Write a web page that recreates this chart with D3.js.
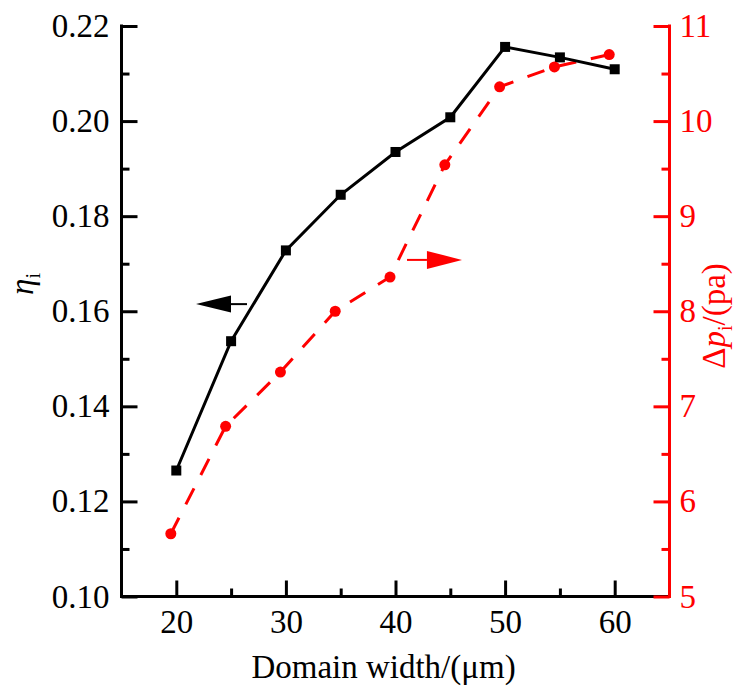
<!DOCTYPE html>
<html>
<head>
<meta charset="utf-8">
<script src="https://cdn.jsdelivr.net/npm/d3@7"></script>
<style>
  html, body { margin: 0; padding: 0; background: #fff; }
  svg { display: block; }
  svg text { font-family: "Liberation Serif", "Times New Roman", serif !important; }
</style>
</head>
<body>
<svg id="chart" width="742" height="696"></svg>
<script>
// ---- data ----
const widths = [20, 25, 30, 35, 40, 45, 50, 55, 60];
const etaValues = [0.1265, 0.1537, 0.1728, 0.1845, 0.1935, 0.2008, 0.2156, 0.2134, 0.2109];
const dpWidths = [19.5, 24.5, 29.5, 34.5, 39.5, 44.5, 49.5, 54.5, 59.5];
const dpValues = [5.66, 6.79, 7.36, 8.00, 8.36, 9.54, 10.36, 10.57, 10.70];
const xTicks = [20, 30, 40, 50, 60];
const xMinor = [25, 35, 45, 55];
const leftTicks = [0.10, 0.12, 0.14, 0.16, 0.18, 0.20, 0.22];
const leftMinor = [0.11, 0.13, 0.15, 0.17, 0.19, 0.21];
const rightTicks = [5, 6, 7, 8, 9, 10, 11];
const rightMinor = [5.5, 6.5, 7.5, 8.5, 9.5, 10.5];

const FONT = "'Liberation Serif', 'Times New Roman', serif";
const svg = d3.select("#chart").attr("font-family", FONT);
const L = 121.5, R = 669.5, T = 26, B = 596.5;
const RED = "#ff0000";

const x = d3.scaleLinear().domain([15, 65]).range([L, R]);
const yL = d3.scaleLinear().domain([0.10, 0.22]).range([B, T]);
const yR = d3.scaleLinear().domain([5, 11]).range([B, T]);

const FS = 33;

// ---- axes ----
function styleAxis(g, color) {
  g.attr("font-family", FONT).attr("font-size", FS);
  g.select(".domain").remove();
  g.selectAll(".tick line").attr("stroke", color).attr("stroke-width", 3);
  g.selectAll(".tick text").attr("fill", color).attr("font-family", FONT);
}

// bottom
const gx = svg.append("g").attr("transform", `translate(0,${B})`);
gx.call(d3.axisBottom(x).tickValues(xTicks).tickSizeInner(-16).tickSizeOuter(0).tickPadding(13).tickFormat(d3.format("d")));
styleAxis(gx, "#000");
const gxm = svg.append("g").attr("transform", `translate(0,${B})`);
gxm.call(d3.axisBottom(x).tickValues(xMinor).tickSizeInner(-8).tickSizeOuter(0).tickFormat(""));
styleAxis(gxm, "#000");

// left
const gl = svg.append("g").attr("transform", `translate(${L},0)`);
gl.call(d3.axisLeft(yL).tickValues(leftTicks).tickSizeInner(-16).tickSizeOuter(0).tickPadding(12).tickFormat(d3.format(".2f")));
styleAxis(gl, "#000");
const glm = svg.append("g").attr("transform", `translate(${L},0)`);
glm.call(d3.axisLeft(yL).tickValues(leftMinor).tickSizeInner(-8).tickSizeOuter(0).tickFormat(""));
styleAxis(glm, "#000");

// axis lines
svg.append("line").attr("x1", L).attr("x2", R).attr("y1", B).attr("y2", B)
  .attr("stroke", "#000").attr("stroke-width", 3).attr("stroke-linecap", "square");
svg.append("line").attr("x1", L).attr("x2", L).attr("y1", T).attr("y2", B)
  .attr("stroke", "#000").attr("stroke-width", 3).attr("stroke-linecap", "square");

// right
const gr = svg.append("g").attr("transform", `translate(${R},0)`);
gr.call(d3.axisRight(yR).tickValues(rightTicks).tickSizeInner(-16).tickSizeOuter(0).tickPadding(10).tickFormat(d3.format("d")));
styleAxis(gr, RED);
const grm = svg.append("g").attr("transform", `translate(${R},0)`);
grm.call(d3.axisRight(yR).tickValues(rightMinor).tickSizeInner(-8).tickSizeOuter(0).tickFormat(""));
styleAxis(grm, RED);
svg.append("line").attr("x1", R).attr("x2", R).attr("y1", T).attr("y2", B)
  .attr("stroke", RED).attr("stroke-width", 3).attr("stroke-linecap", "square");

// ---- series ----
const etaData = widths.map((w, i) => ({ x: w, y: etaValues[i] }));
const dpData = dpWidths.map((w, i) => ({ x: w, y: dpValues[i] }));

svg.append("path").datum(dpData)
  .attr("fill", "none").attr("stroke", RED).attr("stroke-width", 3)
  .attr("stroke-dasharray", "18,15")
  .attr("d", d3.line().x(d => x(d.x)).y(d => yR(d.y)));
svg.append("path").datum(etaData)
  .attr("fill", "none").attr("stroke", "#000").attr("stroke-width", 3)
  .attr("d", d3.line().x(d => x(d.x)).y(d => yL(d.y)));

svg.selectAll("rect.sq").data(etaData).enter().append("rect")
  .attr("class", "sq")
  .attr("x", d => x(d.x) - 5).attr("y", d => yL(d.y) - 5)
  .attr("width", 10).attr("height", 10).attr("fill", "#000");
svg.selectAll("circle.dp").data(dpData).enter().append("circle")
  .attr("class", "dp")
  .attr("cx", d => x(d.x)).attr("cy", d => yR(d.y)).attr("r", 5.5).attr("fill", RED);

// ---- arrows ----
function arrow(x0, xBase, xTip, yPix, color, halfH) {
  svg.append("line").attr("x1", x0).attr("x2", xBase).attr("y1", yPix).attr("y2", yPix)
    .attr("stroke", color).attr("stroke-width", 2);
  svg.append("path")
    .attr("d", `M${xTip},${yPix} L${xBase},${yPix - halfH} L${xBase},${yPix + halfH} Z`)
    .attr("fill", color);
}
arrow(x(26.45), x(24.99), x(21.8), yL(0.1615), "#000", 8.5);
arrow(x(41.05), x(42.87), x(46.07), yR(8.54), RED, 9);

// ---- titles ----
svg.append("text")
  .attr("x", (L + R) / 2 - 12).attr("y", 678)
  .attr("text-anchor", "middle").attr("font-size", FS).attr("fill", "#000")
  .text("Domain width/(\u03bcm)");

const yt = svg.append("text")
  .attr("transform", `translate(33,284) rotate(-90)`)
  .attr("text-anchor", "middle").attr("font-size", FS).attr("fill", "#000");
yt.append("tspan").attr("font-style", "italic").text("\u03b7");
yt.append("tspan").attr("dy", 7).attr("font-size", 20).text("i");

const rt = svg.append("text")
  .attr("transform", `translate(725,316) rotate(-90)`)
  .attr("text-anchor", "middle").attr("font-size", FS).attr("fill", RED);
rt.append("tspan").text("\u0394");
rt.append("tspan").attr("font-style", "italic").text("p");
rt.append("tspan").attr("dy", 7).attr("font-size", 20).text("i");
rt.append("tspan").attr("dy", -7).text("/(pa)");
</script>
</body>
</html>
